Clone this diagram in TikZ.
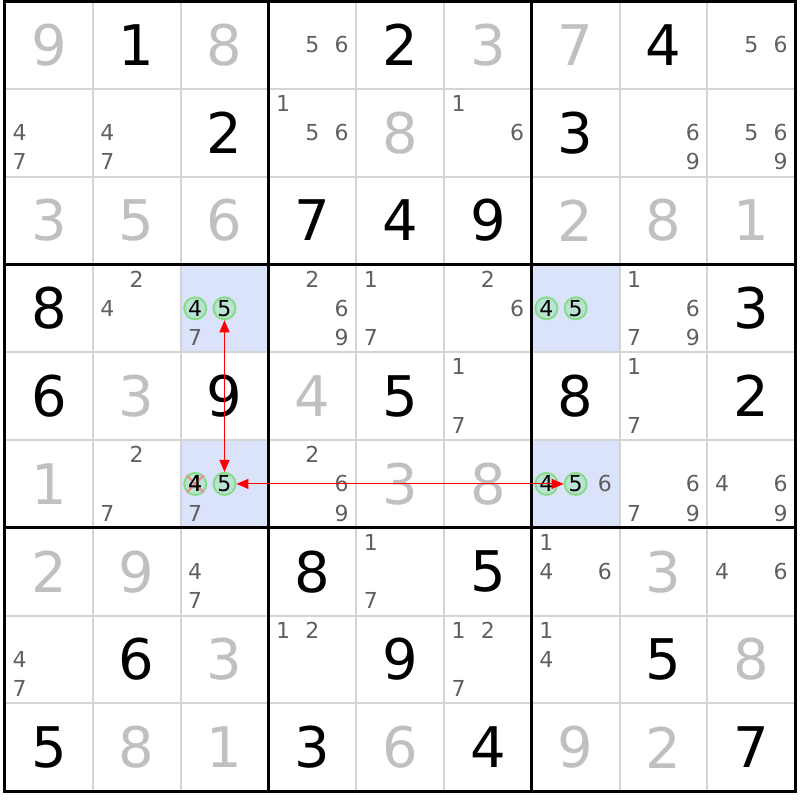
\documentclass[tikz,border=0pt]{standalone}
\usepackage{fontspec}
\setmainfont{DejaVu Sans}
\usetikzlibrary{arrows.meta}
\definecolor{solvedgray}{HTML}{C0C0C0}
\definecolor{candgray}{HTML}{606060}
\definecolor{gridgray}{HTML}{D4D4D4}
\definecolor{hlblue}{HTML}{DBE3FB}
\definecolor{ringgreen}{HTML}{88DC88}
\definecolor{ringfill}{HTML}{B9E4D4}
\definecolor{crossred}{HTML}{F08A8A}
\begin{document}
\begin{tikzpicture}[x=87.8pt, y=-87.8pt,
	given/.style={font=\fontsize{56}{56}\selectfont, text=black},
	solved/.style={font=\fontsize{56}{56}\selectfont, text=solvedgray},
	cand/.style={font=\fontsize{22}{22}\selectfont, text=candgray, inner sep=0pt},
	ring/.style={circle, draw=ringgreen, fill=ringfill, line width=2pt, minimum size=22pt, inner sep=0pt, text=black},
	link/.style={red, {Triangle[length=12pt, width=10pt]}-{Triangle[length=12pt, width=10pt]}}]
	\useasboundingbox (-0.0569, -0.0114) rectangle (9.0547, 9.1002);
	\foreach \r/\c in {4/3, 6/3, 4/7, 6/7}
		\fill[hlblue] (\c-1, \r-1) rectangle (\c, \r);
	\foreach \i in {1, 2, 4, 5, 7, 8}
		\draw[gridgray, line width=2pt] (\i, 0) -- (\i, 9) (0, \i) -- (9, \i);
	\foreach \i in {3, 6}
		\draw[line width=3pt] (\i, 0) -- (\i, 9) (0, \i) -- (9, \i);
	\draw[line width=3pt] (0, 0) rectangle (9, 9);
	\foreach \r/\c/\d in {1/2/1, 1/5/2, 1/8/4, 2/3/2, 2/7/3, 3/4/7, 3/5/4, 3/6/9, 4/1/8, 4/9/3, 5/1/6, 5/3/9, 5/5/5, 5/7/8, 5/9/2, 7/4/8, 7/6/5, 8/2/6, 8/5/9, 8/8/5, 9/1/5, 9/4/3, 9/6/4, 9/9/7}
		\node[given] (v\r\c) at (\c-0.5, \r-0.5) {\d};
	\foreach \r/\c/\d in {1/1/9, 1/3/8, 1/6/3, 1/7/7, 2/5/8, 3/1/3, 3/2/5, 3/3/6, 3/7/2, 3/8/8, 3/9/1, 5/2/3, 5/4/4, 6/1/1, 6/5/3, 6/6/8, 7/1/2, 7/2/9, 7/8/3, 8/3/3, 8/9/8, 9/2/8, 9/3/1, 9/5/6, 9/7/9, 9/8/2}
		\node[solved] (v\r\c) at (\c-0.5, \r-0.5) {\d};
	\foreach \r/\c/\list in {1/4/{5,6}, 1/9/{5,6}, 2/1/{4,7}, 2/2/{4,7}, 2/4/{1,5,6}, 2/6/{1,6}, 2/8/{6,9}, 2/9/{5,6,9}, 4/2/{2,4}, 4/3/{7}, 4/4/{2,6,9}, 4/5/{1,7}, 4/6/{2,6}, 4/8/{1,6,7,9}, 5/6/{1,7}, 5/8/{1,7}, 6/2/{2,7}, 6/3/{7}, 6/4/{2,6,9}, 6/7/{6}, 6/8/{6,7,9}, 6/9/{4,6,9}, 7/3/{4,7}, 7/5/{1,7}, 7/7/{1,4,6}, 7/9/{4,6}, 8/1/{4,7}, 8/4/{1,2}, 8/6/{1,2,7}, 8/7/{1,4}}
		\foreach \d in \list {
			\pgfmathsetmacro\cx{\c-1+(mod(\d-1,3)+0.5)/3}
			\pgfmathsetmacro\cy{\r-1+(floor((\d-1)/3)+0.5)/3}
			\node[cand] (c\r\c\d) at (\cx, \cy) {\d};
		}
	\foreach \r/\c in {4/3, 6/3, 4/7, 6/7}
		\foreach \d in {4, 5} {
			\pgfmathsetmacro\cx{\c-1+(mod(\d-1,3)+0.5)/3}
			\pgfmathsetmacro\cy{\r-1+(floor((\d-1)/3)+0.5)/3}
			\node[cand, ring] (c\r\c\d) at (\cx, \cy) {\d};
		}
	\draw[crossred, line width=2pt] (c634.north west) -- (c634.south east) (c634.north east) -- (c634.south west);
	\node[cand, text=black] at (c634) {4};
	\draw[link, line width=1.5pt] (c435) -- (c635);
	\draw[link, line width=1pt] (c635) -- (c675);
\end{tikzpicture}
\end{document}
